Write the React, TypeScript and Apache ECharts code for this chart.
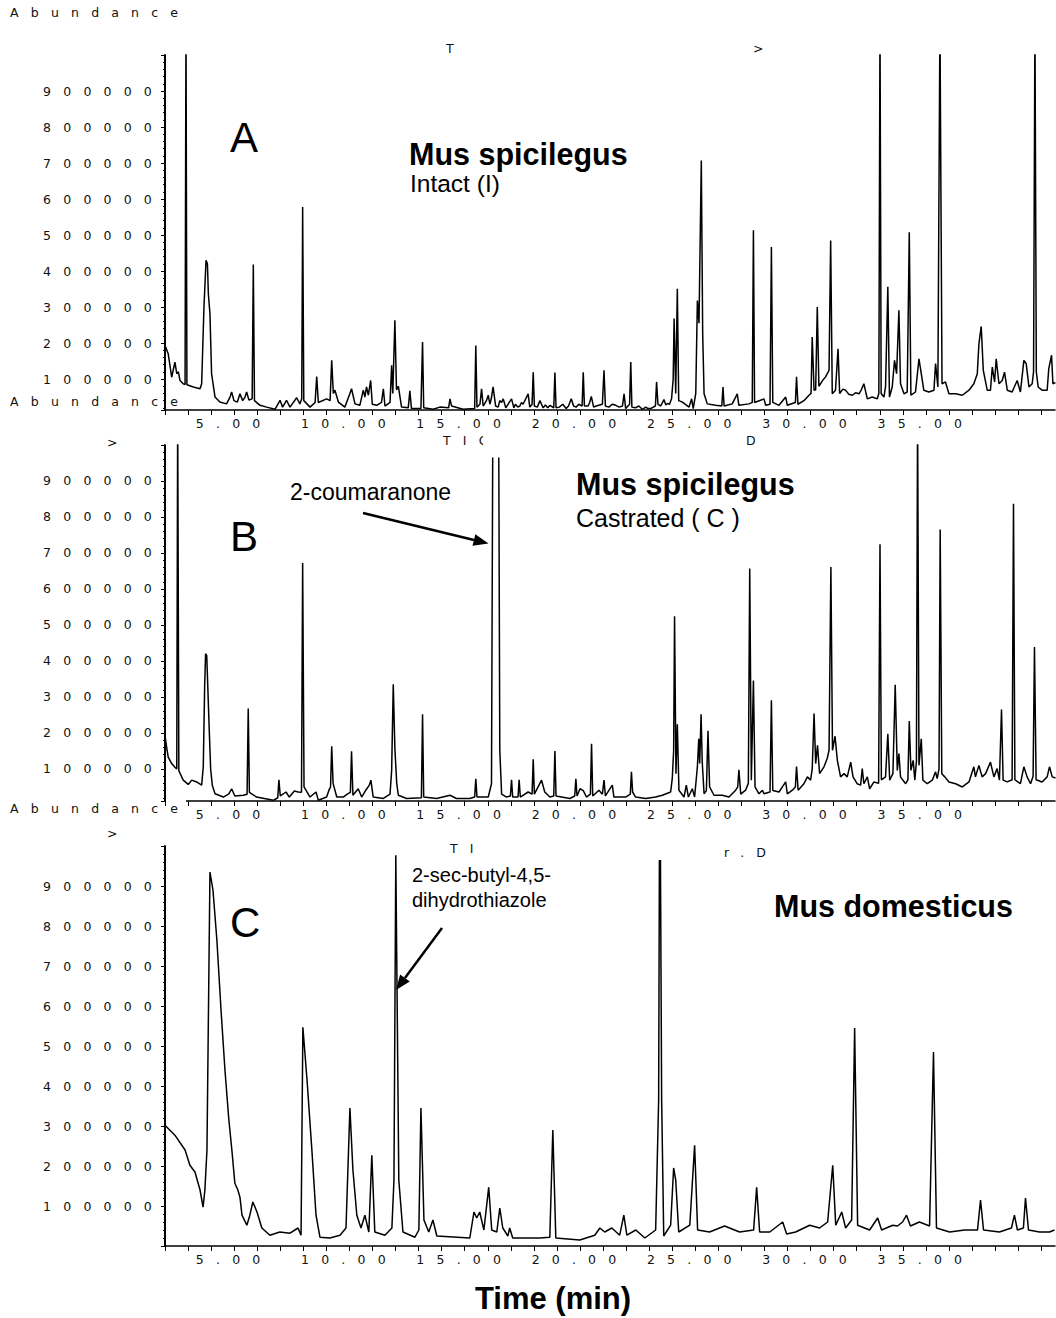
import React, { useEffect, useRef } from "react";
import * as echarts from "echarts";

type Pt = [number, number];

// x axis: retention time (min)
const minuteTicks = [2, 3, 4, 5, 6, 7, 8, 9, 10, 11, 12, 13, 14, 15, 16, 17, 18, 19, 20, 21, 22, 23, 24, 25, 26, 27, 28, 29, 30, 31, 32, 33, 34, 35, 36, 37, 38, 39, 40];
const timeLabels = [5, 10, 15, 20, 25, 30, 35];
const abundanceLabels = [100000, 200000, 300000, 400000, 500000, 600000, 700000, 800000, 900000];

// Chromatogram traces: [time (min), abundance (thousands)]
const traceA: Pt[] = [
  [2.0, 193], [2.14, 170], [2.29, 105], [2.43, 147], [2.51, 115], [2.58, 120], [2.65, 96], [2.79, 87], [2.87, 85], [2.91, 1100], [2.95, 84],
  [3.23, 78], [3.52, 73], [3.59, 87], [3.69, 300], [3.78, 430], [3.84, 420], [3.88, 337], [3.95, 281], [4.02, 115], [4.17, 50], [4.38, 36],
  [4.67, 31], [4.82, 50], [4.89, 64], [4.99, 40], [5.14, 36], [5.25, 59], [5.37, 40], [5.47, 50], [5.54, 64], [5.64, 42], [5.78, 45], [5.83, 418], [5.88, 40],
  [6.12, 27], [6.41, 22], [6.77, 16], [6.99, 41], [7.1, 22], [7.27, 41], [7.42, 22], [7.71, 48], [7.85, 31], [7.93, 45], [7.97, 578], [8.02, 40],
  [8.29, 22], [8.51, 35], [8.58, 107], [8.65, 35], [9.01, 45], [9.16, 40], [9.23, 152], [9.3, 60], [9.37, 69], [9.52, 36], [9.8, 22],
  [10.02, 60], [10.09, 73], [10.24, 31], [10.45, 27], [10.6, 69], [10.67, 50], [10.74, 78], [10.82, 55], [10.92, 96], [10.99, 30],
  [11.18, 27], [11.39, 35], [11.47, 73], [11.54, 25], [11.76, 35], [11.83, 138], [11.88, 60], [11.97, 263], [12.04, 70], [12.12, 80], [12.26, 22],
  [12.55, 20], [12.62, 67], [12.69, 18], [13.1, 18], [13.17, 203], [13.22, 20], [13.63, 16], [13.92, 22], [14.3, 20], [14.36, 45], [14.43, 25],
  [14.93, 16], [15.43, 18], [15.48, 193], [15.53, 22], [15.66, 30], [15.73, 73], [15.8, 25], [15.94, 40], [16.02, 55], [16.09, 30], [16.15, 45], [16.23, 78], [16.34, 25],
  [16.45, 22], [16.52, 40], [16.6, 35], [16.67, 45], [16.78, 20], [17.03, 45], [17.13, 20], [17.2, 30], [17.3, 22], [17.39, 25], [17.46, 35], [17.53, 30], [17.75, 59], [17.82, 22], [17.92, 30], [17.97, 119], [18.02, 25],
  [18.15, 22], [18.26, 40], [18.33, 30], [18.4, 20], [18.5, 28], [18.6, 20], [18.7, 27], [18.86, 20], [18.91, 118], [18.96, 20], [19.1, 22], [19.25, 30], [19.4, 18], [19.5, 25], [19.62, 45], [19.72, 25], [19.83, 22], [19.95, 30], [20.09, 25], [20.14, 119], [20.19, 25],
  [20.35, 25], [20.42, 35], [20.49, 52], [20.59, 22], [20.7, 25], [20.85, 28], [20.97, 30], [21.04, 124], [21.1, 25], [21.25, 22], [21.4, 30], [21.55, 27], [21.7, 22], [21.84, 25], [21.91, 59], [21.98, 18], [22.15, 30], [22.2, 147], [22.25, 22],
  [22.4, 20], [22.55, 25], [22.7, 16], [22.85, 22], [22.95, 18], [23.06, 18], [23.27, 25], [23.32, 92], [23.38, 30], [23.5, 25], [23.64, 43], [23.72, 28], [23.79, 32], [23.88, 30], [23.97, 45], [24.04, 100], [24.08, 268], [24.15, 60], [24.22, 351], [24.28, 40],
  [24.44, 36], [24.73, 22], [24.84, 45], [24.91, 18], [25.02, 60], [25.09, 318], [25.16, 255], [25.26, 707], [25.32, 226], [25.38, 59], [25.52, 31],
  [25.88, 27], [26.15, 25], [26.2, 78], [26.25, 25], [26.6, 31], [26.82, 59], [26.89, 27], [27.33, 31], [27.47, 35], [27.52, 513], [27.57, 35],
  [27.98, 45], [28.05, 27], [28.24, 30], [28.3, 467], [28.36, 35], [28.63, 27], [28.92, 50], [28.99, 27], [29.34, 35], [29.39, 106], [29.45, 30],
  [29.71, 40], [29.93, 55], [30.02, 60], [30.07, 217], [30.15, 69], [30.22, 70], [30.29, 300], [30.36, 80], [30.51, 95], [30.65, 106], [30.8, 124], [30.87, 485], [30.94, 59],
  [31.08, 69], [31.19, 184], [31.26, 60], [31.4, 72], [31.52, 69], [31.65, 58], [31.81, 55], [31.95, 62], [32.1, 59], [32.2, 70], [32.31, 87], [32.46, 45], [32.67, 50], [32.89, 45], [32.96, 60], [33.01, 1100], [33.06, 60],
  [33.18, 50], [33.25, 78], [33.35, 356], [33.42, 50], [33.54, 78], [33.64, 152], [33.73, 115], [33.83, 291], [33.9, 87], [34.05, 59], [34.19, 64], [34.28, 508], [34.35, 55],
  [34.55, 64], [34.7, 156], [34.8, 115], [34.91, 69], [35.13, 64], [35.35, 69], [35.42, 143], [35.52, 78], [35.61, 1100], [35.7, 87], [35.85, 92],
  [36.0, 59], [36.29, 59], [36.58, 55], [36.87, 69], [37.08, 87], [37.23, 115], [37.3, 198], [37.4, 246], [37.49, 124], [37.66, 69], [37.8, 69], [37.88, 133], [37.98, 92],
  [38.05, 156], [38.17, 87], [38.31, 96], [38.41, 119], [38.53, 69], [38.74, 64], [38.96, 96], [39.1, 64], [39.25, 152], [39.35, 143], [39.47, 78], [39.61, 87],
  [39.67, 120], [39.73, 1100], [39.79, 120], [39.87, 78], [40.04, 69], [40.26, 69], [40.33, 129], [40.45, 166], [40.51, 87], [40.62, 90],
];

const traceB: Pt[] = [
  [2.0, 193], [2.07, 161], [2.14, 133], [2.29, 115], [2.43, 105], [2.51, 100], [2.55, 1100], [2.6, 95], [2.79, 69], [3.01, 57], [3.16, 69], [3.37, 64],
  [3.59, 55], [3.66, 106], [3.72, 330], [3.76, 420], [3.81, 415], [3.85, 340], [3.92, 207], [3.98, 100], [4.05, 55], [4.17, 31], [4.53, 22], [4.77, 31],
  [4.89, 45], [5.03, 25], [5.4, 27], [5.56, 30], [5.61, 268], [5.66, 35], [5.97, 22], [6.7, 13], [6.89, 20], [6.94, 70], [7.0, 25], [7.25, 36], [7.39, 22],
  [7.61, 39], [7.78, 36], [7.92, 35], [7.97, 672], [8.03, 50], [8.29, 22], [8.55, 36], [8.65, 13], [9.01, 22], [9.11, 41], [9.18, 50], [9.23, 163], [9.29, 60],
  [9.45, 22], [9.73, 22], [9.92, 31], [10.04, 35], [10.09, 149], [10.15, 27], [10.38, 45], [10.53, 22], [10.71, 41], [10.86, 55], [10.93, 69], [11.03, 22],
  [11.47, 18], [11.76, 30], [11.83, 96], [11.9, 335], [11.97, 157], [12.05, 60], [12.12, 27], [12.48, 18], [13.12, 20], [13.17, 252], [13.22, 22], [13.78, 18],
  [14.36, 27], [14.64, 18], [15.22, 18], [15.43, 22], [15.48, 73], [15.53, 22], [16.02, 22], [16.16, 59], [16.22, 1100], [16.47, 1100], [16.52, 152], [16.6, 30],
  [16.81, 22], [16.98, 25], [17.03, 70], [17.08, 22], [17.31, 22], [17.36, 70], [17.41, 22], [17.75, 36], [17.92, 30], [17.97, 127], [18.02, 30], [18.33, 69],
  [18.47, 36], [18.69, 22], [18.86, 25], [18.91, 150], [18.96, 25], [19.56, 18], [19.77, 25], [19.82, 73], [19.87, 25], [20.0, 45], [20.14, 40], [20.28, 22],
  [20.45, 30], [20.5, 170], [20.55, 25], [20.82, 41], [20.97, 30], [21.04, 69], [21.1, 25], [21.4, 55], [21.47, 22], [21.98, 22], [22.18, 30], [22.23, 92],
  [22.28, 36], [22.41, 22], [22.85, 18], [23.28, 22], [23.57, 27], [23.93, 36], [24.0, 73], [24.06, 150], [24.1, 524], [24.16, 87], [24.22, 224], [24.29, 41],
  [24.51, 22], [24.61, 55], [24.7, 22], [24.87, 45], [24.97, 22], [25.09, 106], [25.15, 184], [25.19, 115], [25.25, 252], [25.3, 119], [25.38, 31], [25.48, 40],
  [25.55, 206], [25.62, 50], [25.81, 27], [26.17, 27], [26.46, 22], [26.75, 41], [26.84, 50], [26.89, 98], [26.97, 30], [27.18, 41], [27.3, 60], [27.36, 657],
  [27.43, 69], [27.52, 346], [27.59, 50], [27.76, 31], [27.91, 41], [27.98, 31], [28.24, 36], [28.3, 291], [28.36, 40], [28.63, 36], [28.92, 64], [28.99, 31],
  [29.21, 41], [29.34, 50], [29.39, 107], [29.46, 41], [29.71, 59], [29.86, 78], [30.0, 69], [30.07, 100], [30.15, 254], [30.22, 115], [30.3, 166], [30.39, 87],
  [30.58, 106], [30.72, 129], [30.8, 152], [30.88, 661], [30.95, 152], [31.06, 191], [31.16, 124], [31.3, 78], [31.45, 87], [31.59, 78], [31.74, 119], [31.84, 78],
  [32.02, 59], [32.17, 55], [32.24, 101], [32.31, 59], [32.46, 78], [32.56, 45], [32.75, 64], [32.95, 60], [33.01, 724], [33.07, 70], [33.25, 78], [33.35, 198],
  [33.43, 69], [33.57, 87], [33.67, 334], [33.76, 96], [33.83, 143], [33.9, 78], [34.12, 59], [34.22, 70], [34.28, 233], [34.35, 96], [34.45, 124], [34.52, 69],
  [34.59, 120], [34.64, 1100], [34.7, 110], [34.8, 184], [34.87, 69], [35.06, 59], [35.28, 69], [35.42, 92], [35.49, 73], [35.57, 100], [35.62, 765], [35.69, 87],
  [35.82, 78], [36.0, 64], [36.29, 59], [36.58, 50], [36.87, 64], [37.08, 106], [37.15, 78], [37.3, 110], [37.44, 78], [37.59, 87], [37.8, 119], [37.95, 78],
  [38.09, 101], [38.19, 69], [38.28, 265], [38.35, 69], [38.53, 64], [38.74, 70], [38.8, 837], [38.86, 70], [39.1, 59], [39.25, 106], [39.39, 78], [39.54, 59],
  [39.65, 80], [39.71, 439], [39.78, 70], [40.04, 64], [40.26, 78], [40.36, 106], [40.48, 78], [40.62, 75],
];

const traceC: Pt[] = [
  [2.0, 302], [2.43, 277], [2.87, 240], [3.08, 202], [3.3, 185], [3.52, 140], [3.65, 97], [3.73, 140], [3.82, 240], [3.95, 935], [4.08, 890], [4.25, 765],
  [4.43, 590], [4.6, 440], [4.77, 315], [4.9, 240], [5.03, 157], [5.16, 140], [5.25, 122], [5.34, 77], [5.55, 52], [5.68, 77], [5.81, 110], [5.99, 85],
  [6.2, 45], [6.55, 27], [6.98, 35], [7.42, 32], [7.77, 45], [7.9, 27], [7.98, 547], [8.16, 415], [8.37, 240], [8.55, 77], [8.72, 22], [9.15, 20], [9.59, 27],
  [9.85, 45], [10.02, 345], [10.15, 190], [10.32, 77], [10.5, 45], [10.67, 77], [10.84, 35], [10.97, 227], [11.1, 35], [11.54, 27], [11.84, 45], [11.93, 165],
  [12.01, 977], [12.14, 165], [12.32, 35], [12.84, 22], [13.01, 40], [13.1, 345], [13.23, 65], [13.44, 35], [13.62, 65], [13.79, 25], [15.22, 20], [15.4, 85],
  [15.52, 70], [15.65, 85], [15.83, 40], [16.04, 147], [16.17, 40], [16.39, 35], [16.52, 95], [16.65, 45], [16.87, 25], [16.95, 45], [17.08, 20], [18.25, 20],
  [18.69, 22], [18.82, 290], [18.95, 20], [19.99, 15], [20.64, 27], [20.86, 45], [21.07, 35], [21.38, 45], [21.72, 27], [21.9, 77], [22.03, 27], [22.42, 40],
  [22.81, 20], [23.28, 40], [23.41, 365], [23.46, 1300], [23.54, 365], [23.63, 25], [23.93, 52], [24.06, 195], [24.15, 165], [24.28, 35], [24.76, 52],
  [24.97, 252], [25.1, 40], [25.62, 35], [26.27, 50], [26.92, 35], [27.53, 40], [27.66, 147], [27.79, 35], [28.23, 35], [28.79, 60], [28.96, 30], [29.35, 35],
  [29.96, 52], [30.39, 45], [30.74, 60], [30.96, 202], [31.09, 52], [31.35, 85], [31.52, 45], [31.78, 65], [31.91, 545], [32.04, 52], [32.56, 40], [32.91, 70],
  [33.08, 40], [33.56, 52], [33.77, 50], [33.99, 60], [34.16, 77], [34.33, 50], [34.72, 60], [35.16, 50], [35.33, 485], [35.46, 45], [36.03, 35], [36.68, 40],
  [37.24, 40], [37.37, 115], [37.5, 40], [38.19, 35], [38.71, 45], [38.84, 77], [38.97, 40], [39.23, 45], [39.32, 120], [39.45, 40], [39.93, 35], [40.36, 35],
  [40.58, 40],
];

const traces = [traceA, traceB, traceC];
const yMins = [14000, 11000, 0];
const grids = [
  { left: 165, top: 55, width: 890, height: 355 },
  { left: 165, top: 445, width: 890, height: 356 },
  { left: 165, top: 846, width: 890, height: 400 },
];

const SPACED = 12.5; // font size used for letter-spaced instrument texts
const FONT = "Liberation Sans";
const INSTR_FONT = "DejaVu Sans";

function txt(text: string, x: number, y: number, size: number, weight = "normal", align = "left", fill = "#000", z = 100, family = FONT) {
  return {
    type: "text",
    x,
    y,
    z,
    silent: true,
    style: {
      text,
      fontSize: size,
      fontFamily: family,
      fontWeight: weight,
      fill,
      align,
      verticalAlign: "middle",
      textAlign: align,
      textVerticalAlign: "middle",
    },
  };
}

function instr(text: string, x: number, y: number, z = 100) {
  return txt(text, x, y, SPACED, "normal", "left", "#111", z, INSTR_FONT);
}

function rect(x: number, y: number, w: number, h: number) {
  return { type: "rect", z: 90, silent: true, shape: { x, y, width: w, height: h }, style: { fill: "#fff" } };
}

function arrow(x1: number, y1: number, x2: number, y2: number) {
  const dx = x2 - x1;
  const dy = y2 - y1;
  const len = Math.sqrt(dx * dx + dy * dy);
  const ux = dx / len;
  const uy = dy / len;
  const hl = 15;
  const hw = 6;
  const bx = x2 - ux * hl;
  const by = y2 - uy * hl;
  return [
    { type: "line", z: 95, silent: true, shape: { x1, y1, x2: bx, y2: by }, style: { stroke: "#000", lineWidth: 2.5 } },
    {
      type: "polygon",
      z: 95,
      silent: true,
      shape: { points: [[x2, y2], [bx - uy * hw, by + ux * hw], [bx + uy * hw, by - ux * hw]] },
      style: { fill: "#000" },
    },
  ];
}

const css = `.chroma text[style*="12.5px"] { letter-spacing: 12.2px; }`;

export default function App() {
  const ref = useRef<HTMLDivElement>(null);
  useEffect(() => {
    if (!ref.current) return;
    const chart = echarts.init(ref.current, undefined, { renderer: "svg" });
    const labelStyle = { fontSize: SPACED, fontFamily: INSTR_FONT, color: "#111" };
    const option = {
      animation: false,
      backgroundColor: "#fff",
      grid: grids,
      xAxis: grids.map((_, i) => ({
        type: "value",
        gridIndex: i,
        min: 2,
        max: 40.6,
        axisLine: { show: true, onZero: false, lineStyle: { color: "#000", width: 1.5 } },
        axisTick: { show: true, customValues: minuteTicks, length: 5, lineStyle: { color: "#000", width: 1 } },
        axisLabel: {
          show: true,
          customValues: timeLabels,
          formatter: (v: number) => (timeLabels.indexOf(v) >= 0 ? v.toFixed(2) : ""),
          margin: 7,
          ...labelStyle,
        },
        splitLine: { show: false },
      })),
      yAxis: grids.map((_, i) => ({
        type: "value",
        gridIndex: i,
        min: yMins[i],
        max: 1000000,
        splitNumber: 10,
        axisLine: { show: true, lineStyle: { color: "#000", width: 2 } },
        axisTick: { show: true, length: 4, lineStyle: { color: "#000", width: 1 } },
        minorTick: { show: true, splitNumber: 5, length: 2, lineStyle: { color: "#000", width: 1 } },
        axisLabel: {
          formatter: (v: number) => (abundanceLabels.indexOf(v) >= 0 ? String(v) : ""),
          margin: 1,
          ...labelStyle,
        },
        splitLine: { show: false },
      })),
      series: traces.map((tr, i) => ({
        type: "line",
        xAxisIndex: i,
        yAxisIndex: i,
        data: tr.map(([t, v]) => [t, v * 1000]),
        showSymbol: false,
        symbol: "none",
        clip: true,
        silent: true,
        lineStyle: { color: "#000", width: 1.5 },
      })),
      graphic: [
        // masks from the original instrument printout
        rect(483, 433, 263, 24.5),
        rect(477, 836, 247, 24),
        rect(166, 797, 20, 6),
        // instrument texts (partly masked)
        instr("Abundance", 10, 12.5),
        instr("Abundance", 10, 401.5),
        instr("Abundance", 10, 808),
        instr("T", 446, 48, 80),
        instr(">", 753, 48, 80),
        instr(">", 107, 442, 80),
        instr("TIC", 443, 440, 80),
        instr("D", 746, 440, 80),
        instr(">", 107, 833, 80),
        instr("TIC", 450, 848, 80),
        instr("r.D", 724, 852, 80),
        // panel letters
        txt("A", 230, 137, 42),
        txt("B", 230, 536, 42),
        txt("C", 230, 922, 42),
        // titles
        txt("Mus spicilegus", 409, 154, 30.5, "bold"),
        txt("Intact (I)", 410, 183, 24.5),
        txt("Mus spicilegus", 576, 484, 30.5, "bold"),
        txt("Castrated ( C )", 576, 518, 25),
        txt("Mus domesticus", 774, 906, 30.5, "bold"),
        // annotations
        txt("2-coumaranone", 290, 492, 23),
        ...arrow(363, 513, 488.5, 543.5),
        txt("2-sec-butyl-4,5-", 412, 875, 20),
        txt("dihydrothiazole", 412, 900, 20),
        ...arrow(442, 928, 396, 990),
        txt("Time (min)", 553, 1298, 31, "bold", "center"),
      ],
    };
    chart.setOption(option as any);
    return () => chart.dispose();
  }, []);
  return (
    <>
      <style>{css}</style>
      <div
        className="chroma"
        ref={ref}
        style={{ position: "absolute", left: 0, top: 0, width: 1056, height: 1318, background: "#fff" }}
      />
    </>
  );
}
